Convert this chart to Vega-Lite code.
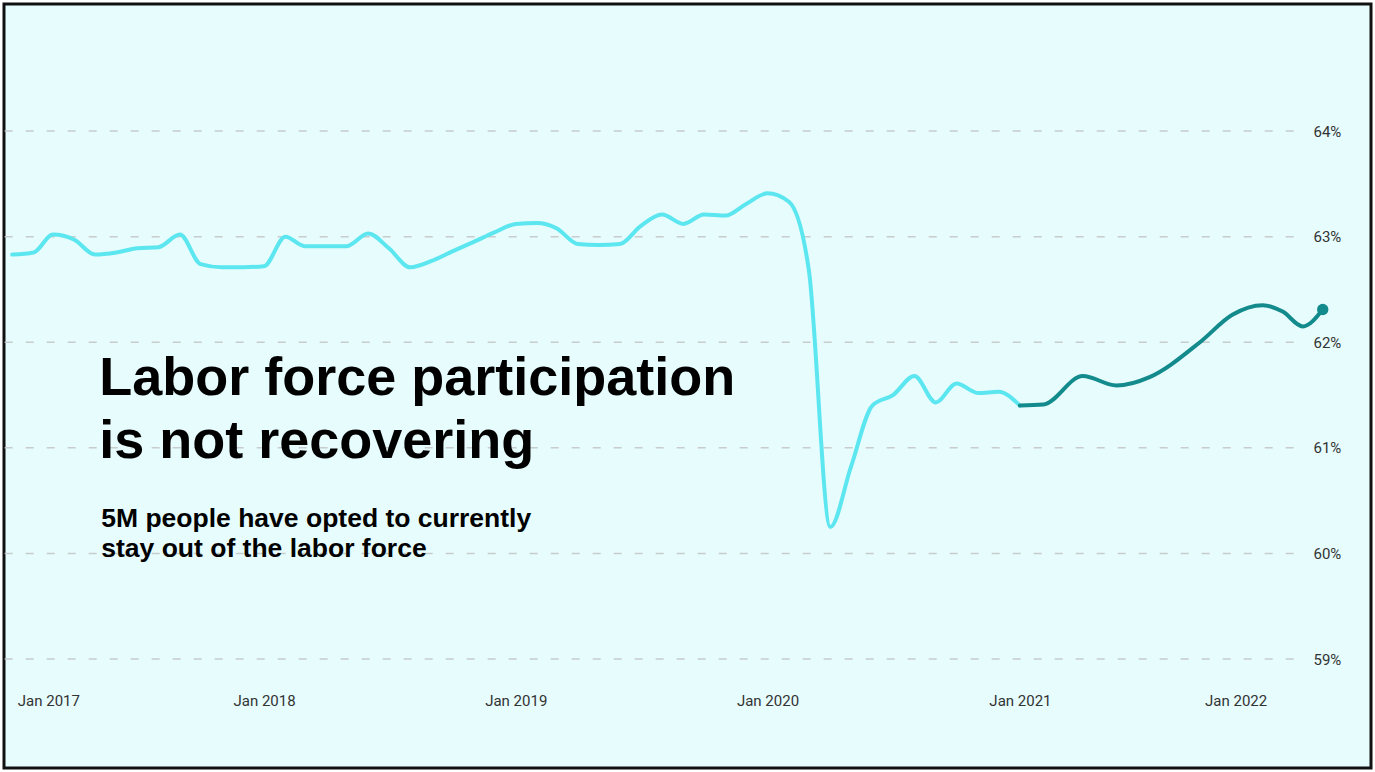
{
  "$schema": "https://vega.github.io/schema/vega-lite/v6.json",
  "width": 1367,
  "height": 764,
  "padding": 4,
  "autosize": {"type": "none"},
  "background": "#ffffff",
  "config": {
    "view": {"stroke": "#111111", "strokeWidth": 3, "fill": "#e6fcfd"},
    "font": "Roboto"
  },
  "datasets": {
    "grid": [{"pct": 59}, {"pct": 60}, {"pct": 61}, {"pct": 62}, {"pct": 63}, {"pct": 64}],
    "latest": [{"date": "2022-03-16", "value": 62.31, "period": "after"}],
    "lfpr": [
      {"date": "2017-01-01", "value": 62.83, "period": "before"},
      {"date": "2017-02-01", "value": 62.85, "period": "before"},
      {"date": "2017-03-01", "value": 63.02, "period": "before"},
      {"date": "2017-04-01", "value": 62.97, "period": "before"},
      {"date": "2017-05-01", "value": 62.83, "period": "before"},
      {"date": "2017-06-01", "value": 62.85, "period": "before"},
      {"date": "2017-07-01", "value": 62.89, "period": "before"},
      {"date": "2017-08-01", "value": 62.90, "period": "before"},
      {"date": "2017-09-01", "value": 63.02, "period": "before"},
      {"date": "2017-10-01", "value": 62.74, "period": "before"},
      {"date": "2017-11-01", "value": 62.71, "period": "before"},
      {"date": "2017-12-01", "value": 62.71, "period": "before"},
      {"date": "2018-01-01", "value": 62.72, "period": "before"},
      {"date": "2018-02-01", "value": 63.00, "period": "before"},
      {"date": "2018-03-01", "value": 62.91, "period": "before"},
      {"date": "2018-04-01", "value": 62.91, "period": "before"},
      {"date": "2018-05-01", "value": 62.91, "period": "before"},
      {"date": "2018-06-01", "value": 63.03, "period": "before"},
      {"date": "2018-07-01", "value": 62.89, "period": "before"},
      {"date": "2018-08-01", "value": 62.71, "period": "before"},
      {"date": "2018-09-01", "value": 62.77, "period": "before"},
      {"date": "2018-10-01", "value": 62.86, "period": "before"},
      {"date": "2018-11-01", "value": 62.95, "period": "before"},
      {"date": "2018-12-01", "value": 63.04, "period": "before"},
      {"date": "2019-01-01", "value": 63.12, "period": "before"},
      {"date": "2019-02-01", "value": 63.13, "period": "before"},
      {"date": "2019-03-01", "value": 63.08, "period": "before"},
      {"date": "2019-04-01", "value": 62.93, "period": "before"},
      {"date": "2019-05-01", "value": 62.92, "period": "before"},
      {"date": "2019-06-01", "value": 62.93, "period": "before"},
      {"date": "2019-07-01", "value": 63.10, "period": "before"},
      {"date": "2019-08-01", "value": 63.21, "period": "before"},
      {"date": "2019-09-01", "value": 63.12, "period": "before"},
      {"date": "2019-10-01", "value": 63.21, "period": "before"},
      {"date": "2019-11-01", "value": 63.20, "period": "before"},
      {"date": "2019-12-01", "value": 63.31, "period": "before"},
      {"date": "2020-01-01", "value": 63.41, "period": "before"},
      {"date": "2020-02-01", "value": 63.33, "period": "before"},
      {"date": "2020-03-01", "value": 62.68, "period": "before"},
      {"date": "2020-04-01", "value": 60.25, "period": "before"},
      {"date": "2020-05-01", "value": 60.82, "period": "before"},
      {"date": "2020-06-01", "value": 61.40, "period": "before"},
      {"date": "2020-07-01", "value": 61.50, "period": "before"},
      {"date": "2020-08-01", "value": 61.68, "period": "before"},
      {"date": "2020-09-01", "value": 61.43, "period": "before"},
      {"date": "2020-10-01", "value": 61.61, "period": "before"},
      {"date": "2020-11-01", "value": 61.52, "period": "before"},
      {"date": "2020-12-01", "value": 61.53, "period": "before"},
      {"date": "2021-01-01", "value": 61.40, "period": "before"},
      {"date": "2021-01-01", "value": 61.40, "period": "after"},
      {"date": "2021-02-04", "value": 61.41, "period": "after"},
      {"date": "2021-04-02", "value": 61.68, "period": "after"},
      {"date": "2021-05-21", "value": 61.59, "period": "after"},
      {"date": "2021-07-08", "value": 61.67, "period": "after"},
      {"date": "2021-09-19", "value": 62.00, "period": "after"},
      {"date": "2021-11-05", "value": 62.26, "period": "after"},
      {"date": "2021-12-19", "value": 62.35, "period": "after"},
      {"date": "2022-01-17", "value": 62.29, "period": "after"},
      {"date": "2022-02-15", "value": 62.15, "period": "after"},
      {"date": "2022-03-16", "value": 62.31, "period": "after"}
    ]
  },
  "layer": [
    {
      "data": {"name": "grid"},
      "mark": {"type": "rule", "color": "#c8cccc", "strokeWidth": 1.5, "strokeDash": [8, 13]},
      "encoding": {
        "y": {"field": "pct", "type": "quantitative", "scale": {"domain": [57.968, 65.203], "nice": false, "zero": false}},
        "x": {"datum": {"year": 2016, "month": 12, "date": 21}, "type": "temporal", "scale": {"domain": [{"year": 2016, "month": 12, "date": 20}, {"year": 2022, "month": 5, "date": 25}]}},
        "x2": {"datum": {"year": 2022, "month": 2, "date": 14}}
      }
    },
    {
      "data": {"name": "lfpr"},
      "mark": {"type": "line", "interpolate": "monotone", "strokeWidth": 4, "strokeCap": "round", "strokeJoin": "round"},
      "encoding": {
        "x": {
          "field": "date", "type": "temporal",
          "scale": {"domain": [{"year": 2016, "month": 12, "date": 20}, {"year": 2022, "month": 5, "date": 25}]},
          "axis": {
            "orient": "bottom",
            "values": [
              {"year": 2017, "month": 1, "date": 1},
              {"year": 2018, "month": 1, "date": 1},
              {"year": 2019, "month": 1, "date": 1},
              {"year": 2020, "month": 1, "date": 1},
              {"year": 2021, "month": 1, "date": 1},
              {"year": 2022, "month": 1, "date": 1}
            ],
            "format": "%b %Y",
            "grid": false, "domain": false, "ticks": false, "tickSize": 0,
            "labelPadding": 0, "offset": -75,
            "labelFlush": 110, "labelFlushOffset": -5,
            "labelFont": "Roboto", "labelFontSize": 15, "labelColor": "#333333",
            "title": null
          }
        },
        "y": {
          "field": "value", "type": "quantitative",
          "scale": {"domain": [57.968, 65.203], "nice": false, "zero": false},
          "axis": {
            "orient": "right",
            "values": [59, 60, 61, 62, 63, 64],
            "labelExpr": "datum.value + '%'",
            "grid": false, "domain": false, "ticks": false, "tickSize": 0,
            "labelPadding": 0, "offset": -58,
            "labelFont": "Roboto", "labelFontSize": 15, "labelColor": "#333333",
            "title": null
          }
        },
        "color": {
          "field": "period", "type": "nominal",
          "scale": {"domain": ["before", "after"], "range": ["#5ce6f0", "#138a8c"]},
          "legend": null
        }
      }
    },
    {
      "data": {"name": "latest"},
      "mark": {"type": "point", "filled": true, "size": 130, "color": "#138a8c", "opacity": 1},
      "encoding": {
        "x": {"field": "date", "type": "temporal"},
        "y": {"field": "value", "type": "quantitative"}
      }
    },
    {
      "data": {"values": [{}]},
      "mark": {"type": "text", "align": "left", "baseline": "alphabetic", "font": "Liberation Sans", "fontWeight": "bold", "fontSize": 54, "lineHeight": 63, "color": "#000000"},
      "encoding": {
        "x": {"datum": {"year": 2017, "month": 5, "date": 7}, "type": "temporal"},
        "y": {"datum": 61.5, "type": "quantitative"},
        "text": {"value": ["Labor force participation", "is not recovering"]}
      }
    },
    {
      "data": {"values": [{}]},
      "mark": {"type": "text", "align": "left", "baseline": "alphabetic", "font": "Liberation Sans", "fontWeight": "bold", "fontSize": 26.5, "lineHeight": 30, "color": "#000000"},
      "encoding": {
        "x": {"datum": {"year": 2017, "month": 5, "date": 10}, "type": "temporal"},
        "y": {"datum": 60.25, "type": "quantitative"},
        "text": {"value": ["5M people have opted to currently", "stay out of the labor force"]}
      }
    }
  ]
}
